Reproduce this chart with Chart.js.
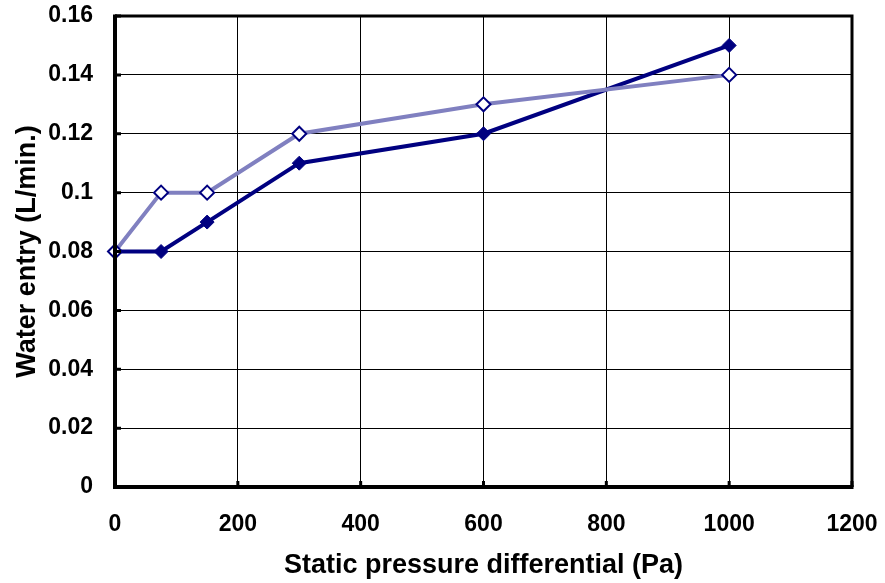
<!DOCTYPE html>
<html><head><meta charset="utf-8">
<script src="https://cdn.jsdelivr.net/npm/chart.js@4/dist/chart.umd.min.js"></script>
<style>html,body{margin:0;padding:0;background:#fff}#wrap{width:885px;height:583px}</style>
</head><body><div id="wrap"><canvas id="c"></canvas></div>
<script>
const pressure = [0, 75, 150, 300, 600, 1000];
const seriesA = [0.08, 0.08, 0.09, 0.11, 0.12, 0.15];
const seriesB = [0.08, 0.10, 0.10, 0.12, 0.13, 0.14];
const xTitle = 'Static pressure differential (Pa)';
const yTitle = 'Water entry (L/min.)';

const fam = '"Liberation Sans", Arial, sans-serif';
const tickFont = {family:fam, weight:'bold', size:23};
const titleFont = {family:fam, weight:'bold', size:27};

const frame = {
  id:'frame',
  afterDatasetsDraw(chart){
    const {ctx, chartArea:a, scales} = chart;
    ctx.save();
    ctx.strokeStyle='#000';
    ctx.lineWidth=3;
    ctx.beginPath();
    ctx.moveTo(a.left, a.top); ctx.lineTo(a.right, a.top); ctx.lineTo(a.right, a.bottom);
    ctx.stroke();
    ctx.lineWidth=4;
    ctx.beginPath();
    ctx.moveTo(a.left, a.top-1.5); ctx.lineTo(a.left, a.bottom); ctx.lineTo(a.right+1.5, a.bottom);
    ctx.stroke();
    ctx.lineWidth=3;
    ctx.beginPath();
    scales.y.ticks.forEach(t=>{const y=scales.y.getPixelForValue(t.value); ctx.moveTo(a.left, y); ctx.lineTo(a.left+6, y);});
    scales.x.ticks.forEach(t=>{const x=scales.x.getPixelForValue(t.value); ctx.moveTo(x, a.bottom); ctx.lineTo(x, a.bottom-6);});
    ctx.stroke();
    ctx.restore();
  }
};

new Chart(document.getElementById('c'), {
  type:'line',
  data:{datasets:[
    {label:'B', data:pressure.map((x,i)=>({x, y:seriesB[i]})), borderColor:'#8080C0', borderWidth:4,
     pointStyle:'rectRot', pointRadius:7, pointBackgroundColor:'#fff', pointBorderColor:'#000080', pointBorderWidth:2, clip:false, order:1},
    {label:'A', data:pressure.map((x,i)=>({x, y:seriesA[i]})), borderColor:'#000080', borderWidth:4,
     pointStyle:'rectRot', pointRadius:7, pointBackgroundColor:'#000080', pointBorderColor:'#000080', pointBorderWidth:1, clip:false, order:2}
  ]},
  options:{
    responsive:true, maintainAspectRatio:false, animation:false,
    layout:{padding:{top:16, right:33, left:0, bottom:0}},
    plugins:{legend:{display:false}, tooltip:{enabled:false}},
    scales:{
      x:{type:'linear', min:0, max:1200,
         afterFit:s=>{s.height=96; s.paddingLeft=0; s.paddingRight=0;},
         ticks:{stepSize:200, font:tickFont, color:'#000', padding:24, callback:v=>String(v)},
         grid:{color:'#000', lineWidth:1, drawTicks:false},
         border:{display:false},
         title:{display:true, text:xTitle, font:titleFont, color:'#000', padding:{top:0, bottom:1}}},
      y:{min:0, max:0.16,
         afterFit:s=>{s.width=115; s.paddingTop=0; s.paddingBottom=0;},
         ticks:{stepSize:0.02, font:tickFont, color:'#000', padding:22, callback:v=>String(+v.toFixed(2))},
         grid:{color:'#000', lineWidth:1, drawTicks:false},
         border:{display:false},
         title:{display:true, text:yTitle, font:titleFont, color:'#000', padding:{top:11, bottom:0}}}
    }
  },
  plugins:[frame]
});
</script></body></html>
